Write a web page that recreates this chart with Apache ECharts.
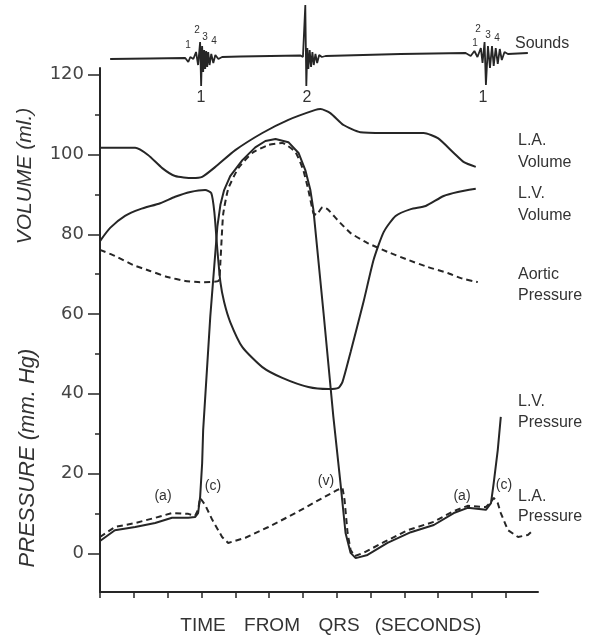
<!DOCTYPE html>
<html>
<head>
<meta charset="utf-8">
<script src="https://cdn.jsdelivr.net/npm/echarts@6/dist/echarts.min.js"></script>
<style>
html,body{margin:0;padding:0;background:#fff;}
#c{width:594px;height:636px;}
</style>
</head>
<body>
<div id="c"></div>
<script>
// ---- data (time in seconds from QRS, values in ml or mm Hg) ----
const xTicks = [0,0.1,0.2,0.3,0.4,0.5,0.6,0.7,0.8,0.9,1.0,1.1,1.2];
const yMajorTicks = [0,20,40,60,80,100,120];
const yMinorTicks = [10,30,50,70,90,110];

const laVolume = [[0,101.7],[0.104,101.7],[0.142,99.9],[0.184,96.6],[0.222,94.6],[0.273,94.1],[0.302,94.4],[0.341,96.9],[0.400,101.1],[0.480,105.4],[0.557,108.7],[0.637,111.2],[0.652,111.4],[0.681,110.4],[0.720,107.4],[0.770,105.6],[0.839,105.4],[0.957,105.4],[0.999,104.1],[1.046,100.4],[1.076,98.1],[1.111,96.9]];

const lvVolume = [[0,78.3],[0.030,81.6],[0.074,84.6],[0.119,86.3],[0.178,87.8],[0.222,89.4],[0.267,90.6],[0.311,91.1],[0.329,90.3],[0.338,85.6],[0.347,76.1],[0.356,68.0],[0.367,63.0],[0.385,58.0],[0.421,51.7],[0.480,46.7],[0.539,44.0],[0.616,41.7],[0.676,41.2],[0.705,41.5],[0.717,43.0],[0.741,50.5],[0.779,63.0],[0.809,73.6],[0.839,80.6],[0.874,84.6],[0.919,86.3],[0.963,87.1],[1.016,89.6],[1.058,90.6],[1.111,91.4]];

const aorticPressure = [[0,76.1],[0.044,74.6],[0.098,72.3],[0.148,70.8],[0.199,69.3],[0.252,68.3],[0.296,68.0],[0.350,68.3],[0.356,73.1],[0.364,84.9],[0.379,91.4],[0.409,96.6],[0.450,100.4],[0.498,102.4],[0.539,102.9],[0.578,100.6],[0.601,96.1],[0.616,91.1],[0.631,85.3],[0.640,84.9],[0.658,86.8],[0.673,86.3],[0.702,83.6],[0.741,80.3],[0.791,77.8],[0.850,75.6],[0.910,73.6],[0.969,71.8],[1.028,70.3],[1.067,69.0],[1.117,68.0]];

const lvPressure = [[0,3.1],[0.044,5.8],[0.104,6.6],[0.163,7.6],[0.213,8.9],[0.261,8.9],[0.281,9.1],[0.290,10.1],[0.296,14.1],[0.302,22.6],[0.305,30.9],[0.326,59.3],[0.347,81.9],[0.356,87.4],[0.367,91.1],[0.385,94.6],[0.421,98.6],[0.459,101.8],[0.489,103.4],[0.519,103.9],[0.557,103.1],[0.587,100.4],[0.607,96.1],[0.622,91.1],[0.631,86.1],[0.661,60.2],[0.690,34.2],[0.711,17.6],[0.726,5.1],[0.741,0.1],[0.756,-1.2],[0.791,-0.4],[0.850,2.6],[0.919,5.3],[0.987,7.1],[1.046,10.1],[1.087,11.4],[1.141,10.9],[1.156,12.6],[1.164,17.6],[1.176,25.9],[1.185,34.2]];

const laPressure = [[0,4.1],[0.044,6.6],[0.104,7.6],[0.163,8.9],[0.213,10.1],[0.261,9.9],[0.281,9.4],[0.290,10.9],[0.296,13.9],[0.311,12.1],[0.332,8.4],[0.361,4.1],[0.379,2.6],[0.430,3.9],[0.498,6.6],[0.578,10.1],[0.658,13.9],[0.702,15.9],[0.717,16.4],[0.723,13.4],[0.732,5.1],[0.741,0.8],[0.753,-0.7],[0.779,0.1],[0.839,2.8],[0.910,5.8],[0.987,7.9],[1.046,10.6],[1.087,11.9],[1.141,11.6],[1.156,12.9],[1.164,13.9],[1.176,12.6],[1.185,10.1],[1.206,5.8],[1.236,4.1],[1.265,4.6],[1.274,5.3]];

// heart sounds trace (relative amplitude)
const sounds = [[0.030,1],[0.148,1.5],[0.252,2],[0.261,-2],[0.267,3],[0.276,1],[0.284,8],[0.290,-5],[0.296,18],[0.299,-26],[0.302,14],[0.305,-12],[0.308,10],[0.311,-9],[0.314,9],[0.317,-7],[0.320,8],[0.324,-5],[0.329,6],[0.335,-3],[0.341,5],[0.350,1],[0.361,3],[0.415,3.5],[0.593,4.5],[0.600,3],[0.607,55],[0.610,-26],[0.613,12],[0.616,-9],[0.620,10],[0.624,-7],[0.628,8],[0.632,-5],[0.637,6],[0.642,-3],[0.648,5],[0.656,3],[0.667,4],[0.889,6],[1.081,7],[1.096,4],[1.107,9],[1.116,3],[1.126,12],[1.131,-3],[1.137,18],[1.141,-25],[1.147,14],[1.153,-8],[1.159,14],[1.164,-6],[1.170,12],[1.176,-4],[1.182,11],[1.188,0],[1.196,8],[1.206,6],[1.265,7]];

const sideLabels = ['L.A.\nVolume','L.V.\nVolume','Aortic\nPressure','L.V.\nPressure','L.A.\nPressure'];
const waveLabels = ['(a)','(c)','(v)','(a)','(c)'];

const ink = '#262626';
const chart = echarts.init(document.getElementById('c'), null, {renderer:'canvas'});

function lineSeries(name, data, dashed, smooth, xi, yi){
  return {
    name, type:'line', data, xAxisIndex:xi||0, yAxisIndex:yi||0,
    showSymbol:false, smooth: smooth||false, silent:true, animation:false,
    lineStyle:{color:ink, width:2, type: dashed ? [6,4] : 'solid'}
  };
}

const txt = (x,y,t,opt) => Object.assign({type:'text', x, y, style:Object.assign({text:t, fill:'#333', font:'16px "Liberation Sans", Arial, sans-serif'}, opt||{})});

chart.setOption({
  backgroundColor:'#fff',
  animation:false,
  grid:[
    {left:100, right:56, top:68, bottom:44},
    {left:100, right:56, top:0, height:100}
  ],
  xAxis:[
    {type:'value', gridIndex:0, min:0, max:1.295,
     axisLine:{show:true, onZero:false, lineStyle:{color:ink, width:2}},
     axisTick:{show:true, customValues:xTicks, length:6, lineStyle:{color:ink, width:1.5}},
     axisLabel:{show:false}, splitLine:{show:false}},
    {type:'value', gridIndex:1, min:0, max:1.295, show:false}
  ],
  yAxis:[
    {type:'value', gridIndex:0, min:-9.7, max:121.7,
     axisLine:{show:true, onZero:false, lineStyle:{color:ink, width:2}},
     axisTick:{show:true, customValues:yMajorTicks, length:12, lineStyle:{color:ink, width:1.5}},
     axisLabel:{show:true, customValues:yMajorTicks, margin:16, color:'#444', fontSize:18, fontFamily:'DejaVu Sans'},
     splitLine:{show:false}},
    {type:'value', gridIndex:0, min:-9.7, max:121.7,position:'left',
     axisLine:{show:false},
     axisTick:{show:true, customValues:yMinorTicks, length:5, lineStyle:{color:ink, width:1.5}},
     axisLabel:{show:false}, splitLine:{show:false}},
    {type:'value', gridIndex:1, min:-40, max:60, show:false}
  ],
  series:[
    lineSeries('L.A. Volume', laVolume, false, 0.2),
    lineSeries('L.V. Volume', lvVolume, false, 0.2),
    lineSeries('Aortic Pressure', aorticPressure, true, 0.15),
    lineSeries('L.V. Pressure', lvPressure, false, false),
    lineSeries('L.A. Pressure', laPressure, true, false),
    Object.assign(lineSeries('Sounds', sounds, false, false, 1, 2), {lineStyle:{color:ink, width:1.8}})
  ],
  graphic:[
    // axis titles
    {type:'text', x:25, y:176, rotation:Math.PI/2, style:{text:'VOLUME (ml.)', fill:'#333', font:'italic 21px "Liberation Sans", sans-serif', align:'center', verticalAlign:'middle'}},
    {type:'text', x:28, y:458, rotation:Math.PI/2, style:{text:'PRESSURE (mm. Hg)', fill:'#333', font:'italic 22px "Liberation Sans", sans-serif', align:'center', verticalAlign:'middle'}},
    txt(203,626,'TIME',{align:'center',verticalAlign:'middle',font:'19px "Liberation Sans", sans-serif'}),
    txt(272,626,'FROM',{align:'center',verticalAlign:'middle',font:'19px "Liberation Sans", sans-serif'}),
    txt(339,626,'QRS',{align:'center',verticalAlign:'middle',font:'19px "Liberation Sans", sans-serif'}),
    txt(428,626,'(SECONDS)',{align:'center',verticalAlign:'middle',font:'19px "Liberation Sans", sans-serif'}),
    // right-side labels
    txt(518,130,sideLabels[0],{lineHeight:22}),
    txt(518,183,sideLabels[1],{lineHeight:22}),
    txt(518,264,sideLabels[2],{lineHeight:21}),
    txt(518,391,sideLabels[3],{lineHeight:21}),
    txt(518,487,sideLabels[4],{lineHeight:20}),
    txt(515,44,'Sounds',{verticalAlign:'middle'}),
    // wave labels
    txt(163,496,waveLabels[0],{align:'center',verticalAlign:'middle',font:'14px "Liberation Sans", sans-serif'}),
    txt(213,486,waveLabels[1],{align:'center',verticalAlign:'middle',font:'14px "Liberation Sans", sans-serif'}),
    txt(326,481,waveLabels[2],{align:'center',verticalAlign:'middle',font:'14px "Liberation Sans", sans-serif'}),
    txt(462,496,waveLabels[3],{align:'center',verticalAlign:'middle',font:'14px "Liberation Sans", sans-serif'}),
    txt(504,485,waveLabels[4],{align:'center',verticalAlign:'middle',font:'14px "Liberation Sans", sans-serif'}),
    // heart sound labels
    txt(201,98,'1',{align:'center',verticalAlign:'middle',font:'16px "Liberation Sans", sans-serif'}),
    txt(307,98,'2',{align:'center',verticalAlign:'middle',font:'16px "Liberation Sans", sans-serif'}),
    txt(483,98,'1',{align:'center',verticalAlign:'middle',font:'16px "Liberation Sans", sans-serif'}),
    txt(188,45,'1',{align:'center',verticalAlign:'middle',font:'10px "Liberation Sans", sans-serif'}),
    txt(197,30,'2',{align:'center',verticalAlign:'middle',font:'10px "Liberation Sans", sans-serif'}),
    txt(205,37,'3',{align:'center',verticalAlign:'middle',font:'10px "Liberation Sans", sans-serif'}),
    txt(214,41,'4',{align:'center',verticalAlign:'middle',font:'10px "Liberation Sans", sans-serif'}),
    txt(475,43,'1',{align:'center',verticalAlign:'middle',font:'10px "Liberation Sans", sans-serif'}),
    txt(478,29,'2',{align:'center',verticalAlign:'middle',font:'10px "Liberation Sans", sans-serif'}),
    txt(488,35,'3',{align:'center',verticalAlign:'middle',font:'10px "Liberation Sans", sans-serif'}),
    txt(497,38,'4',{align:'center',verticalAlign:'middle',font:'10px "Liberation Sans", sans-serif'})
  ]
});
</script>
</body>
</html>
